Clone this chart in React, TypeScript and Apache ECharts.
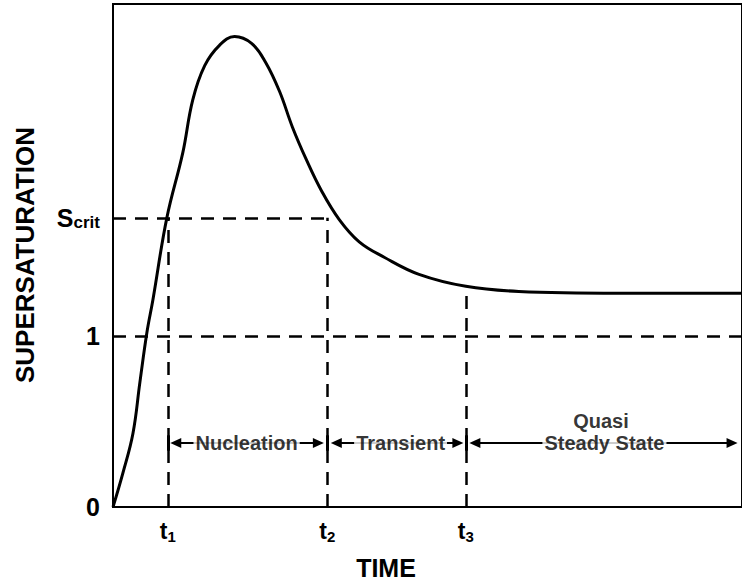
import React, { useEffect, useRef } from "react";
import * as echarts from "echarts";

// Curve: time (arbitrary units, 0..100) vs supersaturation
const timeValues = [0, 1.58, 3.17, 4.28, 5.39, 6.34, 8.56, 11.09, 12.68, 14.58, 16.96, 19.33, 22.03, 24.25, 26.47, 28.53, 30.74, 33.12, 35.97, 39.14, 43.11, 48.65, 56.1, 64.5, 80.35, 100];
const supersatValues = [0, 0.2, 0.43, 0.73, 1.02, 1.21, 1.69, 2.07, 2.38, 2.58, 2.7, 2.75, 2.71, 2.6, 2.43, 2.22, 2.03, 1.85, 1.68, 1.55, 1.46, 1.36, 1.29, 1.26, 1.25, 1.25];

// Characteristic times and levels
const tickTimes = [8.72, 34.07, 56.1];
const tickSubscripts = ["1", "2", "3"];
const sCrit = 1.69;
const sOne = 1;
const yTickValues = [0, sOne, sCrit];
const t3Top = 1.25;

// Phase annotations
const phaseLabels = ["Nucleation", "Transient", "Steady State", "Quasi"];
const phaseX = [21.24, 45.72, 78.13, 77.58];
const phaseY = [0.374, 0.374, 0.374, 0.5];
const arrowY = 0.374;
const arrowFrom = [21.24, 21.24, 45.72, 45.72, 78.13, 78.13];
const arrowTo = [9.98, 32.65, 35.5, 54.83, 57.53, 98.42];

const X_MAX = 100;
const Y_MAX = 2.94;

export default function App() {
  const ref = useRef<HTMLDivElement>(null);
  useEffect(() => {
    if (!ref.current) return;
    const chart = echarts.init(ref.current, null, { renderer: "svg" });
    const boldFont = "'Liberation Sans', Arial, Helvetica, sans-serif";
    const dash = [13, 9];

    const dashedLines: any[] = [
      [{ coord: [0, sCrit] }, { coord: [tickTimes[1], sCrit] }],
      [{ coord: [0, sOne] }, { coord: [X_MAX, sOne] }],
      [{ coord: [tickTimes[0], 0] }, { coord: [tickTimes[0], sCrit] }],
      [{ coord: [tickTimes[1], 0] }, { coord: [tickTimes[1], sCrit] }],
      [{ coord: [tickTimes[2], 0] }, { coord: [tickTimes[2], t3Top] }],
    ];
    const arrows = arrowFrom.map((f, i) => [
      { coord: [f, arrowY] },
      { coord: [arrowTo[i], arrowY] },
    ]);
    const bars = tickTimes.map((t) => [
      { coord: [t, arrowY - 0.045] },
      { coord: [t, arrowY + 0.045] },
    ]);

    const option: any = {
      animation: false,
      backgroundColor: "#fff",
      grid: {
        left: 113,
        right: -2,
        top: 4,
        bottom: 75,
        show: true,
        borderColor: "#000",
        borderWidth: 2,
        containLabel: false,
      },
      xAxis: {
        type: "value",
        min: 0,
        max: X_MAX,
        axisLine: { show: false },
        axisTick: { show: false },
        splitLine: { show: false },
        axisLabel: {
          customValues: tickTimes,
          margin: 10,
          formatter: (v: number) => {
            const i = tickTimes.findIndex((t) => Math.abs(t - v) < 0.01);
            return `{t|t}{s|${tickSubscripts[i] ?? ""}}`;
          },
          rich: {
            t: { fontSize: 23, fontWeight: "bold", fontFamily: boldFont, color: "#000" },
            s: { fontSize: 15, fontWeight: "bold", fontFamily: boldFont, color: "#000", padding: [12, 0, 0, 0] },
          },
        },
      },
      yAxis: {
        type: "value",
        min: 0,
        max: Y_MAX,
        axisLine: { show: false },
        axisTick: { show: false },
        splitLine: { show: false },
        axisLabel: {
          customValues: yTickValues,
          margin: 13,
          fontSize: 25,
          fontWeight: "bold",
          fontFamily: boldFont,
          color: "#000",
          formatter: (v: number) => {
            if (Math.abs(v - sCrit) < 0.001) return "{S|S}{c|crit}";
            return String(v);
          },
          rich: {
            S: { fontSize: 25, fontWeight: "bold", fontFamily: boldFont, color: "#000" },
            c: { fontSize: 17, fontWeight: "bold", fontFamily: boldFont, color: "#000", padding: [10, 0, 0, 0] },
          },
        },
      },
      series: [
        {
          type: "line",
          data: timeValues.map((t, i) => [t, supersatValues[i]]),
          smooth: 0.4,
          showSymbol: false,
          lineStyle: { color: "#000", width: 3 },
          z: 5,
          markLine: {
            silent: true,
            symbol: "none",
            label: { show: false },
            lineStyle: { color: "#000", width: 2.5, type: dash },
            data: dashedLines,
          },
        },
        {
          type: "line",
          data: [],
          z: 3,
          markLine: {
            silent: true,
            symbol: ["none", "triangle"],
            symbolSize: [10, 11],
            label: { show: false },
            lineStyle: { color: "#000", width: 2, type: "solid" },
            data: arrows,
          },
        },
        {
          type: "line",
          data: [],
          z: 3,
          markLine: {
            silent: true,
            symbol: "none",
            label: { show: false },
            lineStyle: { color: "#000", width: 3, type: "solid" },
            data: bars,
          },
        },
        {
          type: "scatter",
          symbolSize: 0,
          silent: true,
          z: 10,
          data: phaseLabels.map((n, i) => ({ name: n, value: [phaseX[i], phaseY[i]] })),
          label: {
            show: true,
            position: "inside",
            formatter: (p: any) => p.name,
            fontSize: 20,
            lineHeight: 20,
            fontWeight: "bold",
            fontFamily: boldFont,
            color: "#000",
            backgroundColor: "#fff",
            padding: [0, 2],
          },
        },
      ],
      graphic: [
        {
          type: "text",
          x: 386,
          y: 568,
          style: {
            text: "TIME",
            fontSize: 25,
            fontWeight: "bold",
            fontFamily: boldFont,
            fill: "#000",
            textAlign: "center",
            textVerticalAlign: "middle",
          },
        },
        {
          type: "text",
          x: 25,
          y: 255,
          rotation: Math.PI / 2,
          style: {
            text: "SUPERSATURATION",
            fontSize: 26,
            fontWeight: "bold",
            fontFamily: boldFont,
            fill: "#000",
            textAlign: "center",
            textVerticalAlign: "middle",
          },
        },
      ],
    };
    chart.setOption(option);
    return () => chart.dispose();
  }, []);
  return (
    <div
      ref={ref}
      style={{ position: "fixed", left: 0, top: 0, width: 742, height: 582, background: "#fff" }}
    />
  );
}
